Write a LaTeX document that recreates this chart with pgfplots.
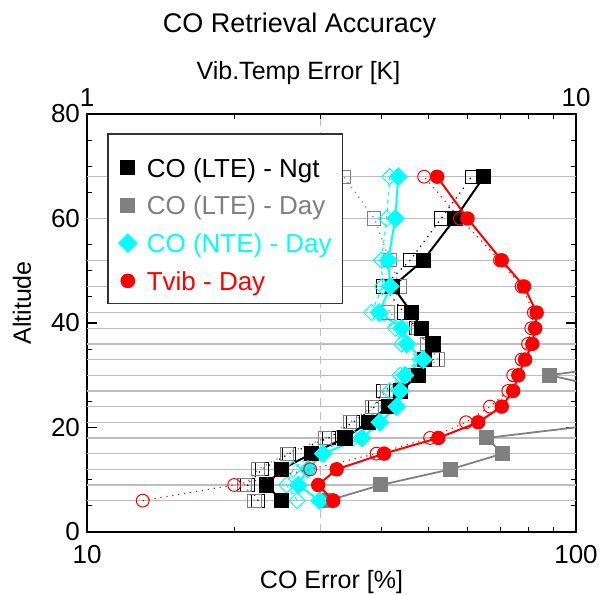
\documentclass[border=0pt]{standalone}
\usepackage{fontspec}
\setmainfont{Liberation Sans}
\usepackage{pgfplots}
\pgfplotsset{compat=1.18}
\definecolor{cyanc}{RGB}{0,255,255}
\definecolor{greyc}{RGB}{128,128,128}
\definecolor{gridc}{RGB}{190,190,190}
\definecolor{redc}{RGB}{255,0,0}
\begin{document}
\begin{tikzpicture}
\path[use as bounding box] (-43.5pt,-31pt) rectangle (256pt,266pt);
\pgfplotsset{
 common/.style={
  width=244.5pt, height=209pt, scale only axis, at={(0,0)}, anchor=south west,
  ymin=0, ymax=80,
  /pgf/number format/assume math mode=true,
  tick label style={font=\fontsize{13}{15}\selectfont},
  label style={font=\fontsize{12.5}{15}\selectfont},
  tick align=inside,
  major tick length=5pt, minor tick length=2.5pt,
  every tick/.style={black, line width=0.6pt},
  axis line style={line width=1pt},
 },
 legimg/.style={legend image code/.code={\path[draw=none,fill=none] (0pt,-2.9pt) -- (14pt,-2.9pt); \draw[##1] plot coordinates {(6pt,-2.9pt)};}},
 blk/.style={black, line width=1pt, mark=square*, mark size=3.3pt, mark options={solid, fill=black}},
 blko/.style={black, line width=0.6pt, dash pattern=on 0.6pt off 2.4pt, mark=square, mark size=3.3pt, mark options={solid, line width=0.5pt}},
 gry/.style={greyc, line width=0.9pt, mark=square*, mark size=3.3pt, mark options={solid, fill=greyc}},
 gryo/.style={greyc, line width=0.6pt, dash pattern=on 0.6pt off 2.4pt, mark=square, mark size=3.3pt, mark options={solid, line width=0.5pt}},
 cyn/.style={cyanc, line width=1pt, mark=square*, mark size=2.85pt, mark options={solid, fill=cyanc, rotate=45}},
 cyno/.style={cyanc, line width=0.6pt, dash pattern=on 2pt off 2pt, mark=square, mark size=2.85pt, mark options={solid, line width=0.5pt, rotate=45}},
 rd/.style={redc, line width=1pt, mark=*, mark size=3.1pt, mark options={solid, fill=redc}},
 rdo/.style={redc, line width=0.6pt, dash pattern=on 0.6pt off 2.4pt, mark=o, mark size=3.2pt, mark options={solid, line width=0.5pt}},
}
\begin{axis}[common,
 xmode=log, xmin=10, xmax=100,
 xtick={10,100}, xticklabels={10,100},
 xtick pos=left,
 xticklabel style={yshift=-3pt},
 ytick={0,20,40,60,80}, minor y tick num=3,
 extra y ticks={6,9,12,15,18,21,24,27,30,33,36,39,42,47,52,60,68},
 extra y tick labels={},
 extra y tick style={ymajorgrids=true, major tick length=0pt, major grid style={gridc, line width=0.7pt}},
 extra x ticks={30}, extra x tick labels={},
 extra x tick style={xmajorgrids=true, major tick length=0pt, major grid style={gridc, line width=0.6pt, dash pattern=on 4pt off 3pt}},
 xlabel={CO Error [\%]},
 xlabel style={at={(axis description cs:0.5,-0.1196)}, anchor=center},
 ylabel={Altitude},
 ylabel style={at={(axis description cs:-0.133,0.548)}, anchor=center},
 legend style={at={(0.041,0.9545)}, anchor=north west, draw=black!80, line width=0.75pt, fill=white,
   font=\fontsize{13}{15}\selectfont, inner xsep=4pt, inner ysep=5pt, row sep=0.65pt,
   nodes={inner sep=1.5pt, text height=15.2pt, text depth=0pt}},
 legend cell align=left,
]
% open (second case) series
\addplot[blko, forget plot] coordinates {(22.4,6) (21.3,9) (22.8,12) (25.9,15) (31.2,18) (35.0,21) (38.8,24) (40.3,27) (46.4,30) (51.0,33) (49.5,36) (47.2,39) (44.5,42) (40.4,47) (45.8,52) (53.0,60) (61.2,68)};
\addplot[gryo, forget plot] coordinates {(22.0,6) (21.0,9) (22.4,12) (25.6,15) (30.7,18) (34.5,21) (38.3,24) (41.0,27) (46.4,30) (52.3,33) (49.5,36) (47.5,39) (41.3,42) (43.7,47) (41.6,52) (38.7,60) (33.5,68)};
\addplot[cyno, forget plot] coordinates {(26.9,6) (25.6,9) (26.4,12) (29.0,15) (35.0,18) (38.4,21) (41.2,24) (41.6,27) (43.7,30) (48.0,33) (44.0,36) (42.7,39) (38.2,42) (40.2,47) (40.0,52) (41.0,60) (41.6,68)};
% filled series
\addplot[gry, forget plot] coordinates {(31.1,6) (39.9,9) (55.4,12) (70.8,15) (65.7,18) (122,21) (130,24) (123,27) (88.2,30) (152,33)};
\addplot[blk, forget plot] coordinates {(25.0,6) (23.3,9) (25.0,12) (28.8,15) (33.7,18) (37.6,21) (41.3,24) (43.7,27) (47.6,30) (49.0,33) (51.0,36) (48.4,39) (46.1,42) (42.2,47) (48.7,52) (56.6,60) (64.8,68)};
\addplot[cyn, forget plot] coordinates {(29.9,6) (27.05,9) (28.3,12) (30.4,15) (36.5,18) (39.7,21) (43.0,24) (43.7,27) (44.7,30) (48.7,33) (45.1,36) (44.0,39) (39.6,42) (41.7,47) (41.3,52) (42.7,60) (43.3,68)};
% legend
\addlegendimage{legimg, black, mark=square*, mark size=3.3pt}
\addlegendentry[text=black]{CO (LTE) - Ngt}
\addlegendimage{legimg, greyc, mark=square*, mark size=3.3pt}
\addlegendentry[text=greyc]{CO (LTE) - Day}
\addlegendimage{legimg, cyanc, mark=square*, mark size=3.1pt, mark options={rotate=45}}
\addlegendentry[text=cyanc]{CO (NTE) - Day}
\addlegendimage{legimg, redc, mark=*, mark size=3.3pt}
\addlegendentry[text=redc]{Tvib - Day}
\end{axis}
\begin{axis}[common,
 xmode=log, xmin=1, xmax=10,
 hide y axis,
 xtick={1,10}, xticklabels={1,10},
 xtick pos=right, xticklabel pos=right,
 xlabel={Vib.Temp Error [K]},
 xlabel style={at={(axis description cs:0.4325,1.098)}, anchor=center},
 title={CO Retrieval Accuracy},
 title style={at={(axis description cs:0.4346,1.1818)}, anchor=center, font=\fontsize{13.5}{16}\selectfont},
]
\addplot[rdo] coordinates {(1.30,6) (2.00,9) (2.86,12) (3.91,15) (5.03,18) (5.96,21) (6.67,24) (7.27,27) (7.44,30) (7.74,33) (7.98,36) (8.10,39) (8.20,42) (7.74,47) (6.99,52) (5.79,60) (4.89,68)};
\addplot[rd] coordinates {(3.19,6) (2.97,9) (3.24,12) (4.05,15) (5.23,18) (6.31,21) (7.05,24) (7.44,27) (7.62,30) (7.87,33) (8.14,36) (8.25,39) (8.31,42) (7.83,47) (7.05,52) (6.00,60) (5.20,68)};
\end{axis}
\end{tikzpicture}
\end{document}
